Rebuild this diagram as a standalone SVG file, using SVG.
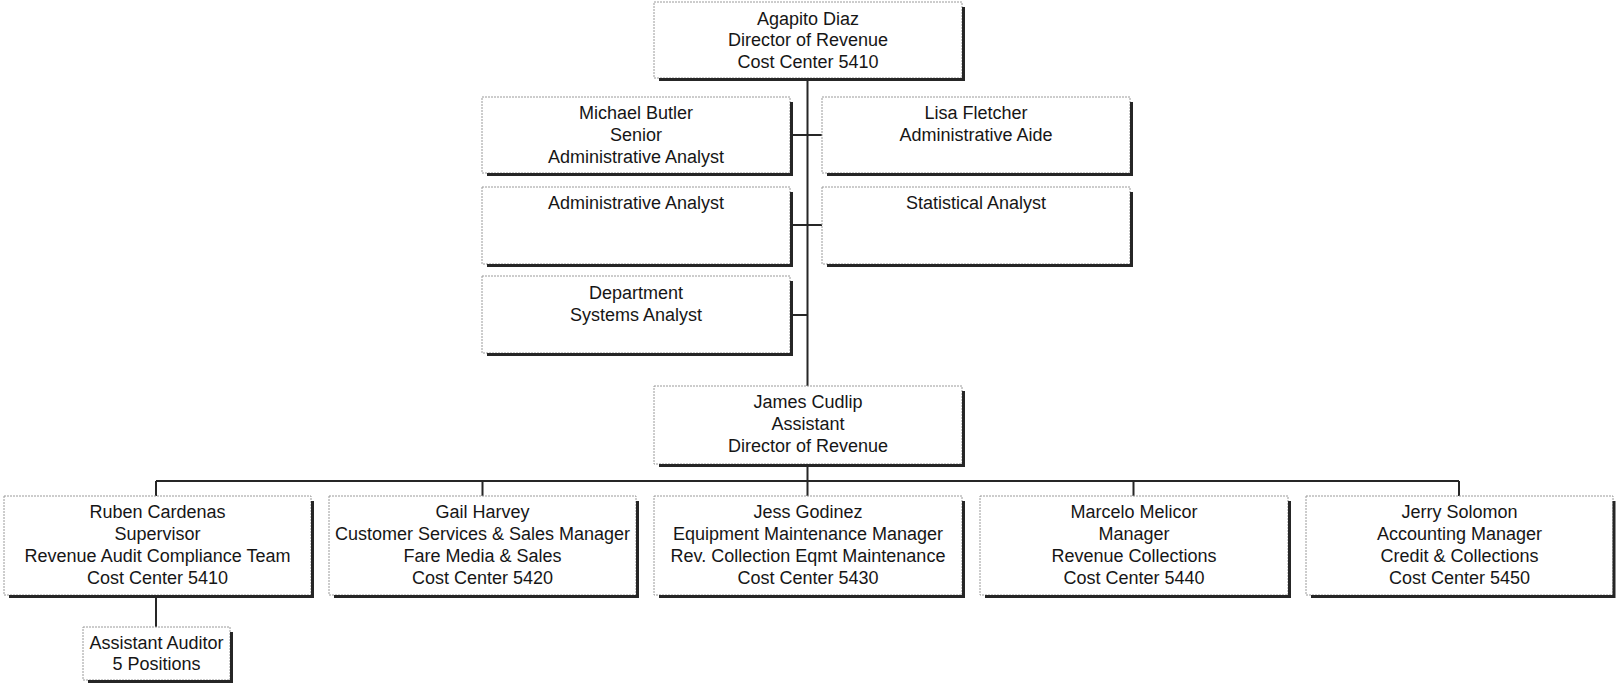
<svg xmlns="http://www.w3.org/2000/svg" width="1616" height="684" viewBox="0 0 1616 684">
<style>
.bx{fill:#fff;stroke:#9a9a9a;stroke-width:1;stroke-dasharray:2 1}
.sh{fill:none;stroke:#262626;stroke-width:3}
.ln{fill:none;stroke:#262626;stroke-width:2}
text{font-family:"Liberation Sans",Arial,sans-serif;font-size:18px;fill:#161616;text-anchor:middle}
</style>
<rect width="1616" height="684" fill="#fff"/>
<g id="connectors">
<path class="ln" d="M807.5 78V386M792 135H822M792 225H822M792 315H807.5M807.5 465V496M156 481H1459M156 481V496M482.5 481V496M1133.5 481V496M1459 481V496M156 596V627"/>
</g>
<g id="n-diaz">
<rect class="bx" x="654" y="2" width="308" height="76"/>
<path class="sh" d="M963.5 7V79.5H659"/>
<text x="808" y="24.5">Agapito Diaz</text>
<text x="808" y="46">Director of Revenue</text>
<text x="808" y="67.5">Cost Center 5410</text>
</g>
<g id="n-butler">
<rect class="bx" x="482" y="97" width="308" height="76"/>
<path class="sh" d="M791.5 102V174.5H487"/>
<text x="636" y="118.5">Michael Butler</text>
<text x="636" y="140.5">Senior</text>
<text x="636" y="162.5">Administrative Analyst</text>
</g>
<g id="n-fletcher">
<rect class="bx" x="822" y="97" width="308" height="76"/>
<path class="sh" d="M1131.5 102V174.5H827"/>
<text x="976" y="119">Lisa Fletcher</text>
<text x="976" y="141">Administrative Aide</text>
</g>
<g id="n-admin">
<rect class="bx" x="482" y="187" width="308" height="77"/>
<path class="sh" d="M791.5 192V265.5H487"/>
<text x="636" y="208.5">Administrative Analyst</text>
</g>
<g id="n-stat">
<rect class="bx" x="822" y="187" width="308" height="77"/>
<path class="sh" d="M1131.5 192V265.5H827"/>
<text x="976" y="209">Statistical Analyst</text>
</g>
<g id="n-dept">
<rect class="bx" x="482" y="276" width="308" height="77"/>
<path class="sh" d="M791.5 281V354.5H487"/>
<text x="636" y="298.5">Department</text>
<text x="636" y="320.5">Systems Analyst</text>
</g>
<g id="n-cudlip">
<rect class="bx" x="654" y="386" width="308" height="78"/>
<path class="sh" d="M963.5 391V465.5H659"/>
<text x="808" y="408">James Cudlip</text>
<text x="808" y="430">Assistant</text>
<text x="808" y="452">Director of Revenue</text>
</g>
<g id="n-cardenas">
<rect class="bx" x="4" y="496" width="307" height="99"/>
<path class="sh" d="M312.5 501V596.5H9"/>
<text x="157.5" y="518">Ruben Cardenas</text>
<text x="157.5" y="540">Supervisor</text>
<text x="157.5" y="562">Revenue Audit Compliance Team</text>
<text x="157.5" y="584">Cost Center 5410</text>
</g>
<g id="n-harvey">
<rect class="bx" x="329" y="496" width="307" height="99"/>
<path class="sh" d="M637.5 501V596.5H334"/>
<text x="482.5" y="518">Gail Harvey</text>
<text x="482.5" y="540">Customer Services &amp; Sales Manager</text>
<text x="482.5" y="562">Fare Media &amp; Sales</text>
<text x="482.5" y="584">Cost Center 5420</text>
</g>
<g id="n-godinez">
<rect class="bx" x="654" y="496" width="308" height="99"/>
<path class="sh" d="M963.5 501V596.5H659"/>
<text x="808" y="518">Jess Godinez</text>
<text x="808" y="540">Equipment Maintenance Manager</text>
<text x="808" y="562">Rev. Collection Eqmt Maintenance</text>
<text x="808" y="584">Cost Center 5430</text>
</g>
<g id="n-melicor">
<rect class="bx" x="980" y="496" width="308" height="99"/>
<path class="sh" d="M1289.5 501V596.5H985"/>
<text x="1134" y="518">Marcelo Melicor</text>
<text x="1134" y="540">Manager</text>
<text x="1134" y="562">Revenue Collections</text>
<text x="1134" y="584">Cost Center 5440</text>
</g>
<g id="n-solomon">
<rect class="bx" x="1306" y="496" width="307" height="99"/>
<path class="sh" d="M1614 501V596.5H1311"/>
<text x="1459.5" y="518">Jerry Solomon</text>
<text x="1459.5" y="540">Accounting Manager</text>
<text x="1459.5" y="562">Credit &amp; Collections</text>
<text x="1459.5" y="584">Cost Center 5450</text>
</g>
<g id="n-auditor">
<rect class="bx" x="83" y="627" width="147" height="53"/>
<path class="sh" d="M231.5 632V681.5H88"/>
<text x="156.5" y="648.5">Assistant Auditor</text>
<text x="156.5" y="670">5 Positions</text>
</g>
</svg>
